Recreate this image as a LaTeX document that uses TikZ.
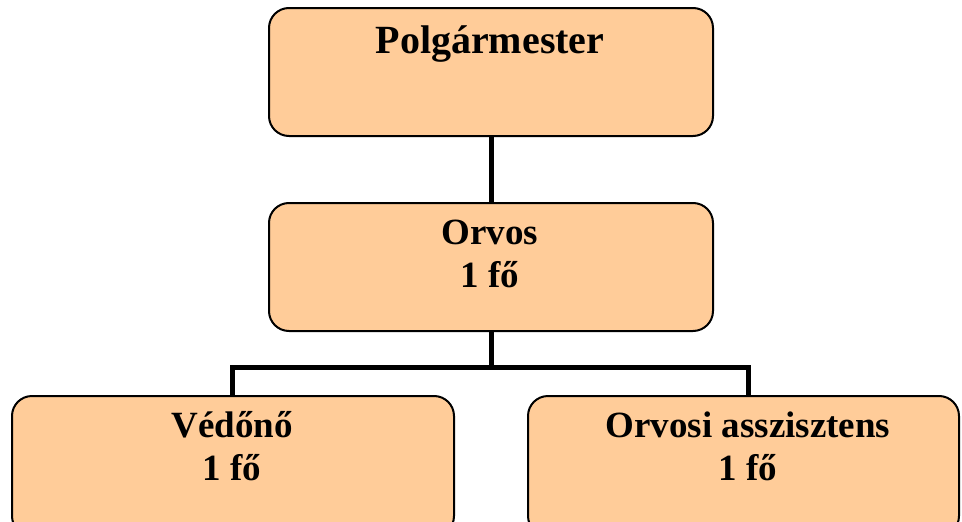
\documentclass[tikz,border=0pt]{standalone}
\usepackage{fontspec}
\setmainfont{Liberation Serif}
\definecolor{peach}{HTML}{FFCC99}
\begin{document}
\begin{tikzpicture}[x=1pt,y=-1pt,
  box/.style={draw=black, line width=2pt, fill=peach, rounded corners=20pt,
    anchor=north west, inner sep=0pt, minimum height=#1},
  conn/.style={draw=black, line width=5pt, line join=miter},
  big/.style={anchor=base, inner sep=0pt, font=\bfseries\fontsize{40}{48}\selectfont},
  txt/.style={anchor=base, inner sep=0pt, font=\bfseries\fontsize{37}{43}\selectfont}]
\clip (0,0) rectangle (962,522);
\useasboundingbox (0,0) rectangle (962,522);
\node[box=128pt, minimum width=444pt] (top) at (268,7) {};
\node[box=128pt, minimum width=444pt] (mid) at (268,202) {};
\node[box=140pt, minimum width=442pt] (left) at (11,395) {};
\node[box=140pt, minimum width=431pt] (right) at (527,395) {};
\coordinate (jl) at (232,367);
\coordinate (jr) at (748,367);
\draw[conn] (top.south) -- (mid.north);
\draw[conn] (mid.south) -- (mid.south |- jl);
\draw[conn] (left.north -| jl) -- (jl) -- (jr) -- (right.north -| jr);
\node[big] (t1) at (490,53) {Polgármester};
\node[txt] (t2) at (490,244) {Orvos};
\node[txt] (t3) at (490,287) {1 fő};
\node[txt] (t4) at (232,437) {Védőnő};
\node[txt] (t5) at (232,480) {1 fő};
\node[txt] (t6) at (748,437) {Orvosi asszisztens};
\node[txt] (t7) at (748,480) {1 fő};
\end{tikzpicture}
\end{document}
